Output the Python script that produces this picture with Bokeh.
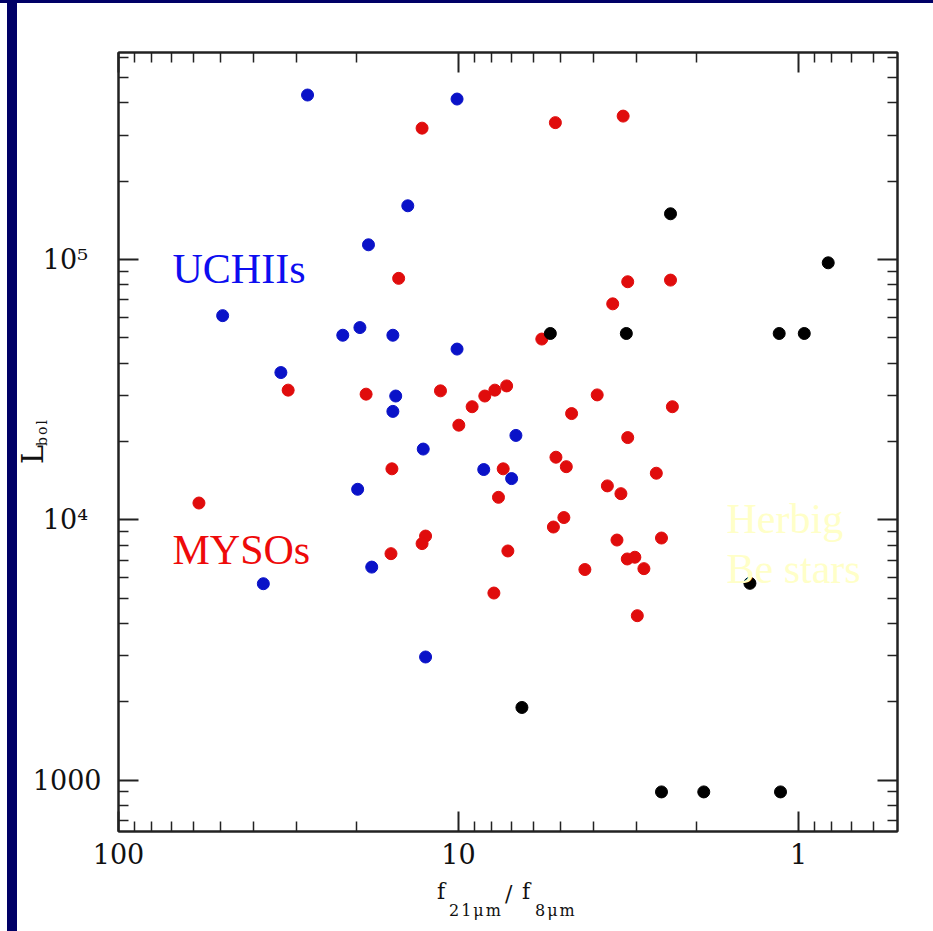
import math
from bokeh.plotting import figure
from bokeh.models import Range1d, FixedTicker, Label, Spacer, LogAxis, Div
from bokeh.layouts import column, row
from bokeh.embed import file_html
from bokeh.resources import INLINE

# ---------------- data ----------------
myso_ratio = [12.8, 5.19, 3.28, 15.0, 3.18, 2.38, 3.52, 5.69, 31.7, 18.7, 11.3, 9.12,
              8.37, 7.82, 7.22, 9.98, 3.91, 4.65, 2.35, 3.18, 58.0, 15.7, 7.39, 5.17,
              4.82, 7.63, 3.65, 3.33, 2.62, 5.26, 4.90, 12.5, 12.8, 15.8, 7.16, 3.42,
              2.53, 4.25, 3.19, 3.03, 2.85, 7.87, 2.98]
myso_lbol = [320000, 336000, 356000, 84700, 82200, 83400, 67600, 49500, 31500, 30400,
             31300, 27200, 29900, 31500, 32700, 23100, 30200, 25600, 27200, 20700,
             11600, 15700, 15700, 17400, 16000, 12200, 13500, 12600, 15100, 9380,
             10200, 8660, 8100, 7410, 7590, 8360, 8510, 6440, 7070, 7180, 6490, 5230,
             4280]

uchii_ratio = [27.8, 10.1, 14.1, 18.4, 49.4, 21.9, 19.5, 15.6, 10.1, 33.3, 15.3, 15.6,
               6.78, 12.7, 8.43, 6.98, 19.8, 18.0, 37.5, 12.5]
uchii_lbol = [429000, 414000, 161000, 114000, 60900, 51200, 54800, 51200, 45300, 36800,
              29900, 26100, 21100, 18700, 15600, 14400, 13100, 6580, 5680, 2970]

hbe_ratio = [2.38, 5.37, 3.21, 1.14, 0.962, 0.818, 1.39, 6.51, 2.53, 1.90, 1.13]
hbe_lbol = [150000, 52000, 52000, 52000, 52000, 97200, 5700, 1900, 900, 900, 900]

x_major = [100, 10, 1]
x_labels = {100: "100", 10: "10", 1: "1"}
x_minor = [90, 80, 70, 60, 50, 40, 30, 20, 9, 8, 7, 6, 5, 4, 3, 2, 0.9, 0.8, 0.7, 0.6]
y_major = [1000, 10000, 100000]
y_labels = {1000: "1000", 10000: "10\u2074\u2002", 100000: "10\u2075\u2002"}
y_minor = [700, 800, 900, 2000, 3000, 4000, 5000, 6000, 7000, 8000, 9000,
           20000, 30000, 40000, 50000, 60000, 70000, 80000, 90000,
           200000, 300000, 400000, 500000, 600000]

X_START, X_END = 100.0, 0.5117
Y_START, Y_END = 634.0, 625000.0

NAVY = "#000066"
AX = "#222222"
TXT = "#111111"

# ---------------- layout geometry ----------------
PAGE_W, PAGE_H = 933, 931
TOP_BAR = 3
LEFT_GAP, LEFT_BAR = 7, 10
OX, OY = LEFT_GAP + LEFT_BAR, TOP_BAR          # figure origin on the page
FIG_W = PAGE_W - OX
FIG_H = PAGE_H - OY
FL, FR, FT, FB = 118, 897, 52, 831             # frame edges in page pixels


def px_x(px):
    a, b = math.log10(X_START), math.log10(X_END)
    return 10 ** (a + (px - FL) / (FR - FL) * (b - a))


def px_y(py):
    a, b = math.log10(Y_START), math.log10(Y_END)
    return 10 ** (b - (py - FT) / (FB - FT) * (b - a))


p = figure(width=FIG_W, height=FIG_H, x_axis_type="log", y_axis_type="log",
           x_range=Range1d(X_START, X_END), y_range=Range1d(Y_START, Y_END),
           output_backend="svg", toolbar_location=None,
           min_border_left=FL - OX, min_border_right=FIG_W - (FR - OX),
           min_border_top=FT - OY, min_border_bottom=FIG_H - (FB - OY),
           background_fill_color="white", border_fill_color="white")
p.xgrid.visible = False
p.ygrid.visible = False
p.outline_line_color = AX
p.outline_line_width = 2

xt = FixedTicker(ticks=x_major, minor_ticks=x_minor)
yt = FixedTicker(ticks=y_major, minor_ticks=y_minor)


def style_axis(ax, ticker, labels, show, standoff):
    ax.ticker = ticker
    ax.major_label_overrides = labels
    ax.axis_line_color = AX
    ax.axis_line_width = 2
    ax.major_tick_line_color = AX
    ax.minor_tick_line_color = AX
    ax.major_tick_line_width = 2
    ax.minor_tick_line_width = 1.5
    ax.major_tick_in = 20
    ax.major_tick_out = 0
    ax.minor_tick_in = 10
    ax.minor_tick_out = 0
    ax.major_label_text_font = "DejaVu Serif"
    ax.major_label_text_font_size = "27px" if show else "1px"
    ax.major_label_text_color = TXT if show else None
    ax.major_label_standoff = standoff


style_axis(p.xaxis[0], xt, x_labels, True, 11)
style_axis(p.yaxis[0], yt, y_labels, True, 17)
top = LogAxis()
right = LogAxis()
style_axis(top, xt, x_labels, False, 4)
style_axis(right, yt, y_labels, False, 4)
p.add_layout(top, "above")
p.add_layout(right, "right")

p.scatter(myso_ratio, myso_lbol, size=12, color="#e00c0c")
p.scatter(uchii_ratio, uchii_lbol, size=12, color="#0a12c8")
p.scatter(hbe_ratio, hbe_lbol, size=12, color="black")

# group labels (page pixel anchors: left edge, baseline)
for txt, px, py, col in [("UCHIIs", 172, 268, "#0d0df0"),
                         ("MYSOs", 172, 549, "#ee0a0a"),
                         ("Herbig", 726, 518, "#ffffc8"),
                         ("Be stars", 726, 568, "#ffffc8")]:
    p.add_layout(Label(x=px_x(px), y=px_y(py), text=txt, text_font="Liberation Serif",
                       text_font_size="42px", text_color=col,
                       text_baseline="alphabetic", text_align="left"))


# ---------------- axis titles (HTML overlay, real text with subscripts) ----------------
def span(txt, left, top, size, rot=False, ls=0.0):
    st = ("position:absolute;left:%.1fpx;top:%.1fpx;font-family:'DejaVu Serif';"
          "font-size:%dpx;line-height:1;white-space:nowrap;color:%s;letter-spacing:%.1fpx;"
          % (left - OX, top - OY, size, TXT, ls))
    if rot:
        st += "transform-origin:0 0;transform:rotate(-90deg);"
    return '<span style="%s">%s</span>' % (st, txt)


BASE = 0.846  # baseline offset (em) for DejaVu Serif at line-height 1
parts = [
    span("L", 43.5 - BASE * 29, 464, 29, rot=True),
    span("bol", 47.0 - BASE * 14, 446, 14, rot=True, ls=2.0),
    span("f", 437, 900 - BASE * 22, 22),
    span("21\u03bcm", 449, 916 - BASE * 16, 16, ls=2.0),
    span("/", 505, 902 - BASE * 22, 22),
    span("f", 522, 900 - BASE * 22, 22),
    span("8\u03bcm", 535, 916 - BASE * 16, 16, ls=2.0),
]
overlay = Div(text='<div style="position:relative;width:%dpx;height:%dpx;">%s</div>'
              % (FIG_W, FIG_H, "".join(parts)),
              width=FIG_W, height=FIG_H, margin=(0, 0, 0, -FIG_W))

top_bar = Spacer(width=PAGE_W, height=TOP_BAR, styles={"background-color": NAVY})
gap = Spacer(width=LEFT_GAP, height=FIG_H)
left_bar = Spacer(width=LEFT_BAR, height=FIG_H, styles={"background-color": NAVY})
layout = column(top_bar, row(gap, left_bar, p, overlay, spacing=0), spacing=0)

open("out.html", "w").write(file_html(layout, INLINE))
